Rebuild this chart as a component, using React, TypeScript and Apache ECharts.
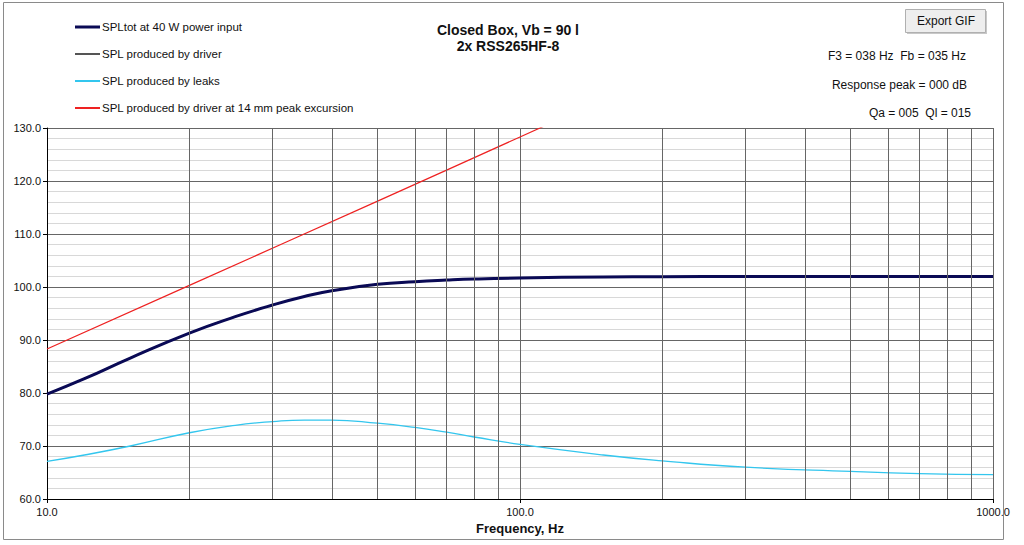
import React, { useEffect, useRef } from "react";
import * as echarts from "echarts";

// Frequencies (Hz) and SPL values (dB)
const totFreq = [10, 12, 15, 20, 25, 30, 35, 40, 50, 60, 70, 80, 100, 150, 200, 300, 500, 1000];
const totSpl = [79.8, 82.7, 86.6, 91.3, 94.4, 96.6, 98.2, 99.3, 100.5, 101.0, 101.3, 101.5, 101.7, 101.9, 101.95, 102.0, 102.0, 102.0];

const leakFreq = [10, 12, 15, 20, 25, 30, 35, 40, 50, 60, 70, 80, 100, 150, 200, 300, 500, 700, 1000];
const leakSpl = [67.1, 68.3, 70.0, 72.5, 73.9, 74.6, 74.9, 74.9, 74.3, 73.5, 72.6, 71.7, 70.3, 68.3, 67.2, 66.0, 65.2, 64.8, 64.6];

const exFreq = [10, 20, 50, 100, 120];
const exSpl = [88.3, 100.3, 116.2, 128.3, 131.5];

const gridFreqs = [20, 30, 40, 50, 60, 70, 80, 90, 200, 300, 400, 500, 600, 700, 800, 900];
const xLabelFreqs = [10, 100, 1000];

const seriesNames = [
  "SPLtot at 40 W power input",
  "SPL produced by driver",
  "SPL produced by leaks",
  "SPL produced by driver at 14 mm peak excursion",
];
const seriesColors = ["#0a0a55", "#555555", "#33c6ee", "#ee2222"];
const legendWidths = [3, 2, 2, 2];

const zip = (a: number[], b: number[]) => a.map((v, i) => [v, b[i]]);

const FONT = "Liberation Sans, Arial, sans-serif";

export default function App() {
  const ref = useRef<HTMLDivElement>(null);
  useEffect(() => {
    document.body.style.margin = "0";
    const chart = echarts.init(ref.current!, null, { renderer: "svg" });

    const legendGraphics: any[] = [];
    seriesNames.forEach((name, i) => {
      const y = 27 + i * 27;
      legendGraphics.push({
        type: "line",
        shape: { x1: 75, y1: y, x2: 100, y2: y },
        style: { stroke: seriesColors[i], lineWidth: legendWidths[i] },
        silent: true,
      });
      legendGraphics.push({
        type: "text",
        x: 102,
        y: y,
        style: {
          text: name,
          fontSize: 11.5,
          fontFamily: FONT,
          fill: "#111",
          textAlign: "left",
          textVerticalAlign: "middle",
        },
      });
    });

    const option: any = {
      animation: false,
      backgroundColor: "#ffffff",
      textStyle: { fontFamily: FONT },
      grid: { left: 47, right: 31, top: 128, bottom: 46, containLabel: false },
      xAxis: {
        type: "log",
        logBase: 10,
        min: 10,
        max: 1000,
        name: "Frequency, Hz",
        nameLocation: "middle",
        nameGap: 20,
        nameTextStyle: { fontSize: 13, fontWeight: "bold", color: "#111", fontFamily: FONT },
        axisLine: { lineStyle: { color: "#000", width: 1 } },
        axisTick: { show: true, length: 4, lineStyle: { color: "#000" } },
        axisLabel: {
          fontSize: 11,
          color: "#111",
          margin: 7,
          formatter: (v: number) => (xLabelFreqs.includes(Math.round(v)) ? Number(v).toFixed(1) : ""),
        },
        splitLine: { show: true, lineStyle: { color: "#666666", width: 1 } },
      },
      yAxis: {
        type: "value",
        min: 60,
        max: 130,
        interval: 10,
        axisLine: { show: true, lineStyle: { color: "#000", width: 1 } },
        axisTick: { show: true, length: 4, lineStyle: { color: "#000" } },
        axisLabel: {
          fontSize: 11,
          color: "#111",
          margin: 6,
          formatter: (v: number) => v.toFixed(1),
        },
        splitLine: { show: true, lineStyle: { color: "#666666", width: 1 } },
        minorTick: { show: false, splitNumber: 5 },
        minorSplitLine: { show: true, lineStyle: { color: "#d8d8d8", width: 1 } },
      },
      series: [
        {
          name: "__grid",
          type: "line",
          data: [[10, 60]],
          showSymbol: false,
          symbol: "none",
          lineStyle: { opacity: 0 },
          silent: true,
          z: 1,
          markLine: {
            silent: true,
            symbol: ["none", "none"],
            label: { show: false },
            lineStyle: { color: "#666666", width: 1, type: "solid" },
            data: gridFreqs.map((f) => ({ xAxis: f })),
          },
        },
        {
          name: seriesNames[1],
          type: "line",
          data: zip(totFreq, totSpl),
          smooth: true,
          symbol: "none",
          lineStyle: { color: seriesColors[1], width: 1.5 },
          z: 3,
        },
        {
          name: seriesNames[2],
          type: "line",
          data: zip(leakFreq, leakSpl),
          smooth: true,
          symbol: "none",
          lineStyle: { color: seriesColors[2], width: 1.3 },
          z: 3,
        },
        {
          name: seriesNames[3],
          type: "line",
          data: zip(exFreq, exSpl),
          smooth: true,
          symbol: "none",
          clip: true,
          lineStyle: { color: seriesColors[3], width: 1.2 },
          z: 3,
        },
        {
          name: seriesNames[0],
          type: "line",
          data: zip(totFreq, totSpl),
          smooth: true,
          symbol: "none",
          lineStyle: { color: seriesColors[0], width: 3 },
          z: 4,
        },
      ],
      graphic: [
        {
          type: "rect",
          shape: { x: 3.5, y: 2.5, width: 1000, height: 537 },
          style: { fill: "none", stroke: "#8a8a8a", lineWidth: 1 },
          silent: true,
        },
        ...legendGraphics,
        {
          type: "text",
          x: 508,
          y: 30,
          style: {
            text: "Closed Box, Vb = 90 l",
            fontSize: 14,
            fontWeight: "bold",
            fontFamily: FONT,
            fill: "#111",
            textAlign: "center",
            textVerticalAlign: "middle",
          },
        },
        {
          type: "text",
          x: 508,
          y: 46,
          style: {
            text: "2x RSS265HF-8",
            fontSize: 14,
            fontWeight: "bold",
            fontFamily: FONT,
            fill: "#111",
            textAlign: "center",
            textVerticalAlign: "middle",
          },
        },
        {
          type: "rect",
          shape: { x: 907, y: 11, width: 80, height: 23 },
          style: { fill: "#c8c8c8", stroke: "none" },
        },
        {
          type: "rect",
          shape: { x: 905.5, y: 9.5, width: 80, height: 23 },
          style: { fill: "#eeeeee", stroke: "#b0b0b0", lineWidth: 1 },
        },
        {
          type: "text",
          x: 946,
          y: 21,
          style: {
            text: "Export GIF",
            fontSize: 12,
            fontFamily: FONT,
            fill: "#111",
            textAlign: "center",
            textVerticalAlign: "middle",
          },
        },
        {
          type: "text",
          x: 966,
          y: 56,
          style: {
            text: "F3 = 038 Hz  Fb = 035 Hz",
            fontSize: 12,
            fontFamily: FONT,
            fill: "#111",
            textAlign: "right",
            textVerticalAlign: "middle",
          },
        },
        {
          type: "text",
          x: 967,
          y: 85,
          style: {
            text: "Response peak = 000 dB",
            fontSize: 12,
            fontFamily: FONT,
            fill: "#111",
            textAlign: "right",
            textVerticalAlign: "middle",
          },
        },
        {
          type: "text",
          x: 971,
          y: 113,
          style: {
            text: "Qa = 005  Ql = 015",
            fontSize: 12,
            fontFamily: FONT,
            fill: "#111",
            textAlign: "right",
            textVerticalAlign: "middle",
          },
        },
      ],
    };
    chart.setOption(option);
    return () => chart.dispose();
  }, []);
  return (
    <div
      ref={ref}
      style={{ position: "absolute", left: 0, top: 0, width: 1024, height: 545 }}
    />
  );
}
